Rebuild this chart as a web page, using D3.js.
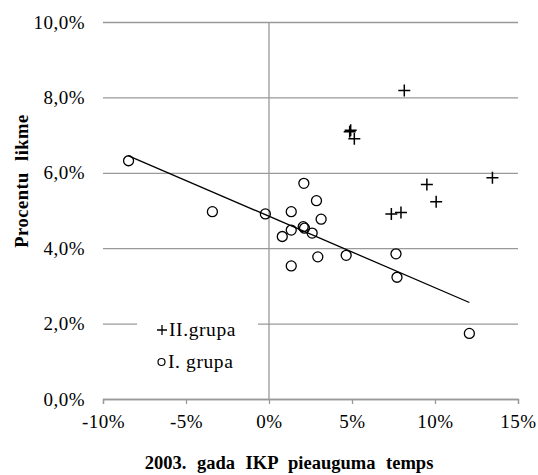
<!DOCTYPE html>
<html lang="lv">
<head>
    <meta charset="UTF-8">
    <script src="https://d3js.org/d3.v7.min.js"></script>
    <style>
        body { margin: 0; background: #fff; }
        svg text { font-family: "Liberation Serif", "Times New Roman", serif !important; }
        .tick text { font-size: 19px; fill: #000; letter-spacing: 0.5px; }
        .title { font-size: 18.5px; font-weight: bold; fill: #000; }
        .legend { font-size: 19.5px; fill: #000; letter-spacing: 0.6px; }
    </style>
</head>
<body>
    <svg id="chart"></svg>
    <script>
        // II. grupa (krusti)
        const grupa2 = [
            [8.15, 8.18], [4.86, 7.09], [4.92, 7.13], [5.14, 6.90], [9.51, 5.69],
            [13.46, 5.87], [10.07, 5.23], [7.37, 4.91], [7.95, 4.95]
        ];
        // I. grupa (apļi)
        const grupa1 = [
            [-8.46, 6.32], [-3.41, 4.97], [-0.22, 4.91], [2.10, 5.72], [2.86, 5.26],
            [1.34, 4.97], [3.14, 4.77], [1.34, 4.48], [2.06, 4.57], [2.14, 4.53],
            [2.60, 4.40], [0.80, 4.31], [2.94, 3.77], [4.65, 3.81], [1.34, 3.53],
            [7.65, 3.85], [7.71, 3.23], [12.07, 1.74]
        ];
        // trend line of I. grupa
        const trend = [[-8.46, 6.45], [12.07, 2.56]];
        const xTicks = [-10, -5, 0, 5, 10, 15];
        const yTicks = [0, 2, 4, 6, 8, 10];

        const W = 538, H = 475;
        const mLeft = 103, mRight = 518, mTop = 22, mBottom = 399;

        const svg = d3.select("#chart").attr("width", W).attr("height", H);

        const x = d3.scaleLinear().domain([-10, 15]).range([mLeft, mRight]);
        const y = d3.scaleLinear().domain([0, 10]).range([mBottom, mTop]);

        // horizontal gridlines + y labels
        const gy = svg.append("g")
            .attr("transform", `translate(${mLeft},0)`)
            .call(d3.axisLeft(y).tickValues(yTicks)
                .tickSize(-(mRight - mLeft)).tickPadding(18)
                .tickFormat(d => d.toFixed(1).replace(".", ",") + "%"));
        gy.attr("font-family", null).attr("font-size", null);
        gy.select(".domain").remove();
        gy.selectAll(".tick line").attr("stroke", "#999").attr("stroke-width", 1.3);

        // vertical axis at 0%
        svg.append("line")
            .attr("x1", x(0)).attr("x2", x(0))
            .attr("y1", mTop).attr("y2", mBottom)
            .attr("stroke", "#999").attr("stroke-width", 1.3);

        // x axis
        const gx = svg.append("g")
            .attr("transform", `translate(0,${mBottom})`)
            .call(d3.axisBottom(x).tickValues(xTicks).tickSize(5).tickSizeOuter(5).tickPadding(11)
                .tickFormat(d => d + "%"));
        gx.attr("font-family", null).attr("font-size", null);
        gx.select(".domain").attr("stroke", "#999").attr("stroke-width", 1.3);
        gx.selectAll(".tick line").attr("stroke", "#999").attr("stroke-width", 1.3);

        // trend line
        svg.append("path")
            .attr("d", d3.line().x(d => x(d[0])).y(d => y(d[1]))(trend))
            .attr("fill", "none").attr("stroke", "#000").attr("stroke-width", 1.3);

        // circles
        svg.selectAll(".c1")
            .data(grupa1)
            .enter()
            .append("circle")
            .attr("class", "c1")
            .attr("cx", d => x(d[0]))
            .attr("cy", d => y(d[1]))
            .attr("r", 5)
            .attr("fill", "none")
            .attr("stroke", "#000")
            .attr("stroke-width", 1.3);

        // crosses
        svg.selectAll(".c2")
            .data(grupa2)
            .enter()
            .append("path")
            .attr("class", "c2")
            .attr("transform", d => `translate(${x(d[0])},${y(d[1])})`)
            .attr("d", "M-6,0H6M0,-6V6")
            .attr("stroke", "#000")
            .attr("stroke-width", 1.5);

        // legend
        svg.append("rect")
            .attr("x", 137).attr("y", 312).attr("width", 121).attr("height", 66)
            .attr("fill", "#fff");
        const lg = svg.append("g");
        lg.append("path")
            .attr("d", "M157,330H167M162,325V335")
            .attr("stroke", "#000").attr("stroke-width", 1.3);
        lg.append("text").attr("class", "legend").attr("x", 169).attr("y", 336).text("II.grupa");
        lg.append("circle")
            .attr("cx", 161.5).attr("cy", 362).attr("r", 3.5)
            .attr("fill", "none").attr("stroke", "#000").attr("stroke-width", 1.2);
        lg.append("text").attr("class", "legend").attr("x", 168).attr("y", 368).text("I. grupa");

        // titles
        svg.append("text")
            .attr("class", "title")
            .attr("x", 289).attr("y", 469)
            .attr("text-anchor", "middle")
            .attr("word-spacing", "6px")
            .text("2003. gada IKP pieauguma temps");

        svg.append("text")
            .attr("class", "title")
            .attr("transform", "translate(28,181) rotate(-90)")
            .attr("text-anchor", "middle")
            .attr("word-spacing", "6px")
            .attr("letter-spacing", "0.5px")
            .text("Procentu likme");
    </script>
</body>
</html>
